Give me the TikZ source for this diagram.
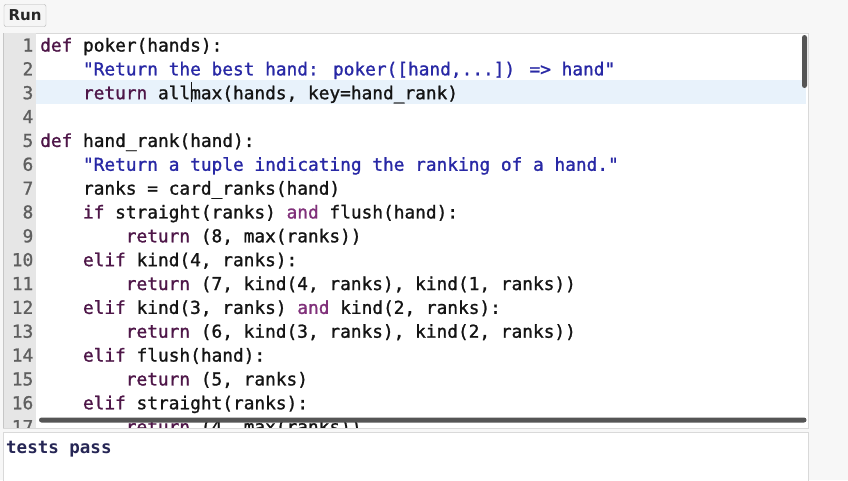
\documentclass[tikz,border=0pt]{standalone}
\usepackage{fontspec}
\newfontfamily\codefont{DejaVu Sans Mono}[FakeBold=1.2]
\newfontfamily\outfont{DejaVu Sans Mono Bold}
\newfontfamily\uifont{DejaVu Sans}
\definecolor{kwc}{RGB}{78,22,72}
\definecolor{andc}{RGB}{128,48,122}
\definecolor{strc}{RGB}{40,40,165}
\definecolor{txtc}{RGB}{20,20,20}
\definecolor{lnumc}{RGB}{95,95,95}
\definecolor{gutterc}{RGB}{230,230,230}
\definecolor{hlc}{RGB}{232,242,251}
\definecolor{bgc}{RGB}{247,247,247}
\definecolor{barc}{RGB}{85,85,85}
\definecolor{outc}{RGB}{38,38,85}
\newcommand\kwd[1]{\textcolor{kwc}{#1}}
\newcommand\andkw{\textcolor{andc}{and}}
\newcommand\strg[1]{\textcolor{strc}{#1}}
\newcommand\cl[3]{\node[codetext] (l#1) at ({40+#2*10.7},{51.5+(#1-1)*23.85}) {#3};
  \node[lnumtext] (n#1) at (33.5,{51.5+(#1-1)*23.85}) {#1};}
\tikzset{
  codetext/.style={anchor=base west, inner sep=0pt, text=txtc, font=\codefont\fontsize{17.8}{20}\selectfont},
  lnumtext/.style={anchor=base east, inner sep=0pt, text=lnumc, font=\codefont\fontsize{17.8}{20}\selectfont},
  runbtn/.style={draw=gray!60, fill=gray!8, rounded corners=2pt, minimum width=42pt, minimum height=22pt, inner sep=0pt, font=\uifont\bfseries\fontsize{15}{16}\selectfont, text=black!85},
  panel/.style={fill=white, draw=gray!30, line width=0.8pt},
  scrollbar/.style={fill=barc, rounded corners=2.5pt},
  outtext/.style={anchor=base west, inner sep=0pt, text=outc, font=\outfont\fontsize{17.5}{18}\selectfont}
}
\begin{document}
\begin{tikzpicture}[x=1pt,y=-1pt]
\useasboundingbox (0,0) rectangle (848,480);
\fill[bgc] (0,0) rectangle (848,480);
% Run button
\node[runbtn] (run) at (25,15.5) {Run};
% editor
\draw[panel] (3,33) rectangle (808,428);
\fill[gutterc] (3.4,33.4) rectangle (36,427.6);
\draw[gray!45, line width=0.6pt] (3.4,33.4) -- (3.4,427.6);
\fill[hlc] (36,80) rectangle (806,104);
\begin{scope}
\clip (3,33) rectangle (808,427);
\cl{1}{0}{\kwd{def} poker(hands):}
\cl{2}{4}{\strg{"Return the best hand: poker([hand,...]) => hand"}}
\cl{3}{4}{\kwd{return} allmax(hands, key=hand\_rank)}
\cl{4}{0}{}
\cl{5}{0}{\kwd{def} hand\_rank(hand):}
\cl{6}{4}{\strg{"Return a tuple indicating the ranking of a hand."}}
\cl{7}{4}{ranks = card\_ranks(hand)}
\cl{8}{4}{\kwd{if} straight(ranks) \andkw{} flush(hand):}
\cl{9}{8}{\kwd{return} (8, max(ranks))}
\cl{10}{4}{\kwd{elif} kind(4, ranks):}
\cl{11}{8}{\kwd{return} (7, kind(4, ranks), kind(1, ranks))}
\cl{12}{4}{\kwd{elif} kind(3, ranks) \andkw{} kind(2, ranks):}
\cl{13}{8}{\kwd{return} (6, kind(3, ranks), kind(2, ranks))}
\cl{14}{4}{\kwd{elif} flush(hand):}
\cl{15}{8}{\kwd{return} (5, ranks)}
\cl{16}{4}{\kwd{elif} straight(ranks):}
\cl{17}{8}{\kwd{return} (4, max(ranks))}
\end{scope}
% cursor
\coordinate (curtop) at (191,82);
\coordinate (curbot) at (191,102);
\draw[txtc, line width=0.7pt] (curtop) -- (curbot);
% scrollbars
\fill[scrollbar] (802,35) rectangle (807,88);
\fill[scrollbar] (39,417.5) rectangle (806.5,422.5);
% output panel
\draw[panel] (3,432) rectangle (808,484);
\node[outtext] (out) at (6,453.5) {tests pass};
\end{tikzpicture}
\end{document}
